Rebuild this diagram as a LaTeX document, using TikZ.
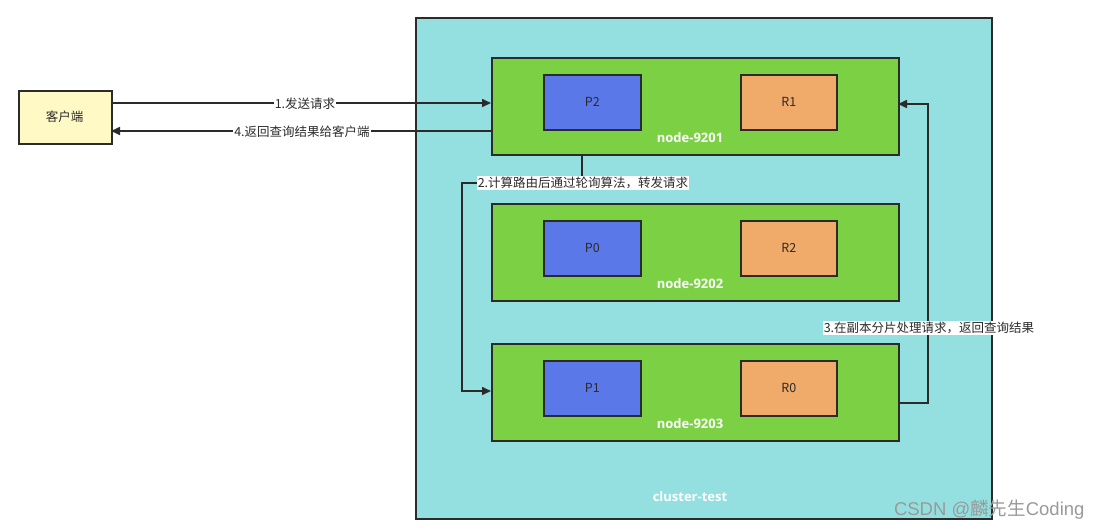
\documentclass[tikz,border=0pt]{standalone}
\usepackage{fontspec}
\setmainfont{Open Sans}
\newfontfamily\cjk{Noto Sans CJK SC}
\newfontfamily\wmfont{Liberation Sans}
\usetikzlibrary{arrows.meta}
\definecolor{lineC}{HTML}{2B2B2B}
\definecolor{clientC}{HTML}{FFF9C6}
\definecolor{clusterC}{HTML}{94E0E1}
\definecolor{greenC}{HTML}{7BD143}
\definecolor{blueC}{HTML}{5B78E9}
\definecolor{orangeC}{HTML}{F0AA6A}
\definecolor{wmC}{HTML}{9A9A9A}
\tikzset{
  box/.style={draw=lineC, line width=1.6pt, anchor=north west, inner sep=0pt},
  plain/.style={font=\cjk\fontsize{12.5}{14}\selectfont, text=lineC},
  lab/.style={font=\fontsize{13}{15}\selectfont\bfseries, text=white},
  elab/.style={font=\cjk\fontsize{12.5}{15}\selectfont, text=lineC, fill=white, inner sep=1pt},
  conn/.style={draw=lineC, line width=1.6pt, -{Triangle[length=9pt,width=8pt]}},
}
\begin{document}
\begin{tikzpicture}[x=1pt,y=-1pt]
\useasboundingbox[fill=white] (0,0) rectangle (1102,530);
% cluster
\node[box, fill=clusterC, minimum width=576pt, minimum height=501pt] (cluster) at (415,17) {};
\node[lab] (clusterlab) at (690,497) {cluster-test};
% client
\node[box, fill=clientC, minimum width=93pt, minimum height=53pt] (client) at (18,90) {};
\node[plain] (clienttxt) at (64.5,116.5) {客户端};
% data nodes
\foreach \n/\y/\p/\r/\lab in {a/57/P2/R1/node-9201, b/203/P0/R2/node-9202, c/343/P1/R0/node-9203}{
  \node[box, fill=greenC, minimum width=407pt, minimum height=97pt] (\n) at (491,\y) {};
  \node[box, fill=blueC, minimum width=97pt, minimum height=55pt] (\n p) at (543,\y+17) {};
  \node[plain] at (\n p.center) {\p};
  \node[box, fill=orangeC, minimum width=96pt, minimum height=55pt] (\n r) at (740,\y+17) {};
  \node[plain] at (\n r.center) {\r};
  \node[lab] (\n lab) at (690,\y+81) {\lab};
}
% connectors
\coordinate (c1s) at (111,103);
\coordinate (c1e) at (491,103);
\draw[conn] (c1s) -- (c1e);
\node[elab] (l1) at (305,104) {1.发送请求};
\coordinate (c4s) at (491,131);
\coordinate (c4e) at (111,131);
\draw[conn] (c4s) -- (c4e);
\node[elab] (l4) at (302,132) {4.返回查询结果给客户端};
% arrow 2
\coordinate (c2s) at (582,154);
\coordinate (c2e) at (491,391);
\draw[conn] (c2s) -- (582,183) -- (462,183) -- (462,391) -- (c2e);
\node[elab] (l2) at (583,183) {2.计算路由后通过轮询算法，转发请求};
% arrow 3
\coordinate (c3s) at (898,403);
\coordinate (c3e) at (898,104);
\draw[conn] (c3s) -- (928,403) -- (928,104) -- (c3e);
\node[elab] (l3) at (929,328) {3.在副本分片处理请求，返回查询结果};
% watermark
\node[font=\cjk\fontsize{18.5}{22}\selectfont, text=wmC, anchor=east] (wm) at (1088,510) {{\wmfont CSDN @}麟先生{\wmfont Coding}};
\end{tikzpicture}
\end{document}
